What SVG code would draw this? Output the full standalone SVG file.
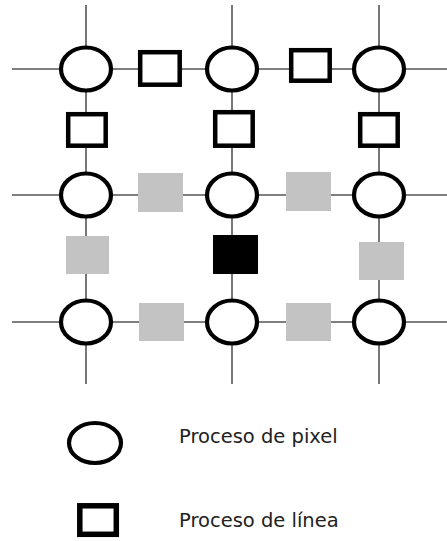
<svg xmlns="http://www.w3.org/2000/svg" width="447" height="541" viewBox="0 0 447 541">
  <style>
    .wire { stroke: #555; stroke-width: 1.6; fill: none; }
    .pix { fill: #fff; stroke: #000; stroke-width: 4.2; }
    .line { fill: #fff; stroke: #000; stroke-width: 4.5; }
    .gray { fill: #c3c3c3; stroke: none; }
    .black { fill: #000; stroke: none; }
    .label { font-family: "DejaVu Sans", Verdana, sans-serif; font-size: 19.5px; fill: #222; }
  </style>

  <!-- grid wiring -->
  <g id="connectors">
    <line class="wire" x1="12" y1="69" x2="447" y2="69"/>
    <line class="wire" x1="12" y1="195" x2="447" y2="195"/>
    <line class="wire" x1="12" y1="322" x2="447" y2="322"/>
    <line class="wire" x1="86" y1="5" x2="86" y2="384"/>
    <line class="wire" x1="232" y1="5" x2="232" y2="384"/>
    <line class="wire" x1="379" y1="5" x2="379" y2="384"/>
  </g>

  <!-- pixel processes -->
  <g id="p11"><ellipse class="pix" cx="86" cy="69" rx="25" ry="21.5"/></g>
  <g id="p12"><ellipse class="pix" cx="232" cy="69" rx="25" ry="21.5"/></g>
  <g id="p13"><ellipse class="pix" cx="379" cy="69" rx="25" ry="21.5"/></g>
  <g id="p21"><ellipse class="pix" cx="86" cy="195" rx="25" ry="21.5"/></g>
  <g id="p22"><ellipse class="pix" cx="232" cy="195" rx="25" ry="21.5"/></g>
  <g id="p23"><ellipse class="pix" cx="379" cy="195" rx="25" ry="21.5"/></g>
  <g id="p31"><ellipse class="pix" cx="86" cy="322" rx="25" ry="21.5"/></g>
  <g id="p32"><ellipse class="pix" cx="232" cy="322" rx="25" ry="21.5"/></g>
  <g id="p33"><ellipse class="pix" cx="379" cy="322" rx="25" ry="21.5"/></g>

  <!-- line processes, first row -->
  <g id="h1a"><rect class="line" x="140.2" y="52.2" width="39.5" height="32.5"/></g>
  <g id="h1b"><rect class="line" x="291.2" y="50.2" width="38.5" height="30.5"/></g>
  <g id="v1a"><rect class="line" x="68.2" y="114.2" width="37.5" height="31.5"/></g>
  <g id="v1b"><rect class="line" x="215.2" y="112.2" width="37.5" height="33.5"/></g>
  <g id="v1c"><rect class="line" x="360.2" y="114.2" width="37.5" height="31.5"/></g>

  <!-- line processes, shaded -->
  <g id="h2a"><rect class="gray" x="138" y="173" width="45" height="39"/></g>
  <g id="h2b"><rect class="gray" x="286" y="172" width="45" height="39"/></g>
  <g id="v2a"><rect class="gray" x="66" y="236" width="43" height="38"/></g>
  <g id="v2b"><rect class="black" x="213" y="235" width="45" height="39"/></g>
  <g id="v2c"><rect class="gray" x="359" y="242" width="45" height="38"/></g>
  <g id="h3a"><rect class="gray" x="139" y="303" width="45" height="38"/></g>
  <g id="h3b"><rect class="gray" x="286" y="303" width="45" height="38"/></g>

  <!-- legend -->
  <g id="legend-pixel">
    <ellipse class="pix" cx="95" cy="443" rx="26" ry="20"/>
    <text class="label" x="179" y="443">Proceso de pixel</text>
  </g>
  <g id="legend-line">
    <rect class="line" x="79.8" y="505.8" width="36.5" height="28.5" style="stroke-width:5.5"/>
    <text class="label" x="179" y="527">Proceso de línea</text>
  </g>
</svg>
